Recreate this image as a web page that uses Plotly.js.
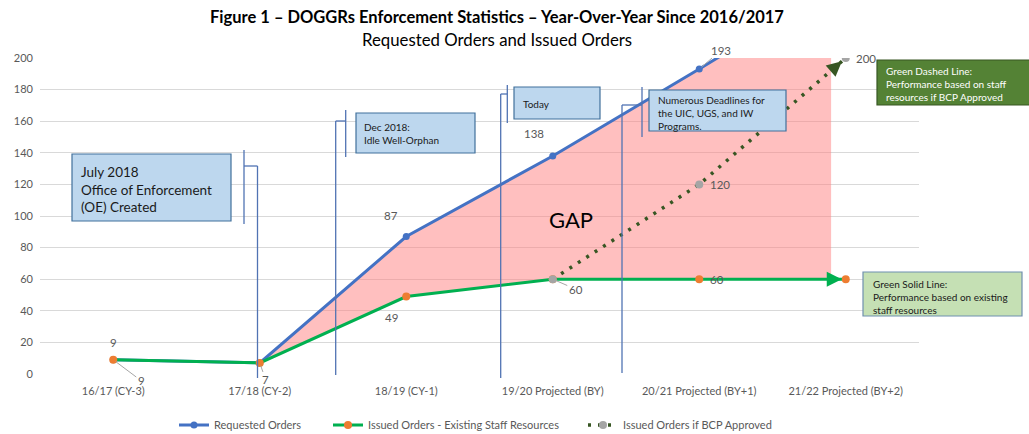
<!DOCTYPE html>
<html><head><meta charset="utf-8">
<script src="https://cdn.plot.ly/plotly-3.0.1.min.js"></script>
<style>html,body{margin:0;padding:0;background:#fff}#chart{width:1029px;height:434px}</style>
</head><body><div id="chart"></div>
<script>
// ---- data ----
const categories = ['16/17 (CY-3)', '17/18 (CY-2)', '18/19 (CY-1)', '19/20 Projected (BY)', '20/21 Projected (BY+1)', '21/22 Projected (BY+2)'];
const requestedOrders = [9, 7, 87, 138, 193, 250];
const issuedExisting = [9, 7, 49, 60, 60, 60];
const issuedBCP = [null, null, null, 60, 120, 200];
const yTickVals = [0, 20, 40, 60, 80, 100, 120, 140, 160, 180, 200];

// ---- layout helpers ----
const FONT = 'Lato, Carlito, Calibri, "Open Sans", sans-serif';
const L = 40, R = 919, T = 58, B = 374;
const px = x => (x - L) / (R - L);
const py = y => (B - y) / (B - T);
const idx = categories.map((c, i) => i);
const yMax = yTickVals[yTickVals.length - 1];
const gapStartIdx = 1, gapEndIdx = 4.9;

function interp(arr, x) {
  const i = Math.min(Math.floor(x), arr.length - 2), t = x - i;
  return arr[i] + (arr[i + 1] - arr[i]) * t;
}
// GAP polygon built from the two series, capped at the axis max
const gapX = [], gapY = [];
for (let i = gapStartIdx; i < requestedOrders.length - 1 && i <= gapEndIdx; i++) {
  gapX.push(i); gapY.push(Math.min(requestedOrders[i], yMax));
  const a = requestedOrders[i], b = requestedOrders[i + 1];
  if (a < yMax && b > yMax) { const t = (yMax - a) / (b - a); if (i + t < gapEndIdx) { gapX.push(i + t); gapY.push(yMax); } }
}
gapX.push(gapEndIdx); gapY.push(Math.min(interp(requestedOrders, gapEndIdx), yMax));
gapX.push(gapEndIdx); gapY.push(interp(issuedExisting, gapEndIdx));
for (let i = Math.floor(gapEndIdx); i >= gapStartIdx; i--) { gapX.push(i); gapY.push(issuedExisting[i]); }

const traces = [
  { x: gapX, y: gapY, mode: 'lines', fill: 'toself', fillcolor: 'rgba(255,128,128,0.5)', line: { width: 0 }, showlegend: false, hoverinfo: 'skip' },
  { x: idx, y: requestedOrders, name: 'Requested Orders', legend: 'legend', mode: 'lines+markers', line: { color: '#4472C4', width: 3 }, marker: { color: '#4472C4', size: 7 } },
  { x: idx, y: issuedExisting, name: 'Issued Orders - Existing Staff Resources', legend: 'legend2', mode: 'lines+markers', line: { color: '#00B050', width: 3 }, marker: { color: '#ED7D31', size: 8 } },
  { x: idx, y: issuedBCP, name: 'Issued Orders if BCP Approved', legend: 'legend3', mode: 'lines+markers', line: { color: '#375623', width: 3.5, dash: '3px,7px' }, marker: { color: '#A5A5A5', size: 8 } }
];

// ---- shapes (callouts) ----
const shapes = [];
function rect(x0, y0, x1, y1, fill, line) {
  shapes.push({ type: 'rect', xref: 'paper', yref: 'paper', x0: px(x0), x1: px(x1), y0: py(y0), y1: py(y1), fillcolor: fill, line: { color: line, width: 1.2 }, layer: 'above' });
}
function seg(x0, y0, x1, y1) {
  shapes.push({ type: 'line', xref: 'paper', yref: 'paper', x0: px(x0), x1: px(x1), y0: py(y0), y1: py(y1), line: { color: '#5073B3', width: 1.3 }, layer: 'above' });
}
seg(244, 150, 244, 224); seg(244, 166, 257.5, 166); seg(257.5, 166, 257.5, 378);
seg(345.7, 110, 345.7, 157); seg(335.7, 121, 345.7, 121); seg(335.7, 121, 335.7, 375);
seg(507.3, 85, 507.3, 123); seg(500.7, 94, 507.3, 94); seg(500.7, 94, 500.7, 378);
seg(642, 87, 642, 137); seg(622, 105, 642, 105); seg(622, 105, 622, 373);
rect(72, 154, 231, 221, '#BDD7EE', '#41719C');
rect(356, 113, 475, 153, '#BDD7EE', '#41719C');
rect(514, 87, 600, 119, '#BDD7EE', '#41719C');
rect(649, 90, 786, 131, '#BDD7EE', '#41719C');
rect(877, 60, 1030, 105, '#548235', '#385723');
rect(863, 272, 1022, 316, '#C5E0B4', '#6F8FAF');

// ---- annotations ----
const ann = [];
function note(x, y, text, size, color, opts) {
  ann.push(Object.assign({ xref: 'paper', yref: 'paper', x: px(x), y: py(y), text: text, showarrow: false, xanchor: 'left', yanchor: 'top', align: 'left', font: { family: FONT, size: size, color: color } }, opts || {}));
}
note(497, 40, 'Requested Orders and Issued Orders', 16.8, '#000', { xanchor: 'center', yanchor: 'middle', align: 'center' });
note(79, 162, 'July 2018<br>Office of Enforcement<br>(OE) Created', 13.5, '#1a1a1a');
note(362, 119, 'Dec 2018:<br>Idle Well-Orphan', 10, '#1a1a1a');
note(521, 96, 'Today', 10, '#1a1a1a');
note(656, 92, 'Numerous Deadlines for<br>the UIC, UGS, and IW<br>Programs.', 10, '#1a1a1a');
note(884, 63, 'Green Dashed Line:<br>Performance based on staff<br>resources if BCP Approved', 10, '#ffffff');
note(871, 276, 'Green Solid Line:<br>Performance based on existing<br>staff resources', 10, '#1a1a1a');
note(571, 219, 'GAP', 22, '#000', { xanchor: 'center', yanchor: 'middle' });

// data labels
const LBL = { family: FONT, size: 11.5, color: '#595959' };
function lbl(i, y, text, xs, ys) {
  ann.push({ x: i, y: y, xref: 'x', yref: 'y', text: text, showarrow: false, xshift: xs, yshift: ys, font: LBL });
}
function lead(i, y, text, ax, ay) {
  ann.push({ x: i, y: y, xref: 'x', yref: 'y', text: text, showarrow: true, arrowhead: 0, arrowwidth: 1, arrowcolor: '#A6A6A6', ax: ax, ay: ay, standoff: 3, font: LBL });
}
lbl(0, issuedExisting[0], String(issuedExisting[0]), 0, 17);
lead(0, requestedOrders[0], String(requestedOrders[0]), 28, 21);
lead(1, requestedOrders[1], String(requestedOrders[1]), 6, 17);
lbl(2, requestedOrders[2], String(requestedOrders[2]), -15, 21);
lbl(3, requestedOrders[3], String(requestedOrders[3]), -19, 22);
lead(4, requestedOrders[4], String(requestedOrders[4]), 22, -19);
lbl(2, issuedExisting[2], String(issuedExisting[2]), -15, -21);
lead(3, issuedBCP[3], String(issuedBCP[3]), 23, 10);
lbl(4, issuedExisting[4], String(issuedExisting[4]), 18, 0);
lbl(4, issuedBCP[4], String(issuedBCP[4]), 21, 0);
lbl(5, issuedBCP[5], String(issuedBCP[5]), 20, 0);

// arrow heads at line ends
const n = categories.length - 1;
ann.push({ x: n, y: issuedExisting[n], xref: 'x', yref: 'y', axref: 'x', ayref: 'y', ax: n - 0.12, ay: issuedExisting[n] - 0.12 * (issuedExisting[n] - issuedExisting[n - 1]), text: '', showarrow: true, arrowhead: 2, arrowsize: 1, arrowwidth: 3, arrowcolor: '#00B050', standoff: 4 });
ann.push({ x: n, y: issuedBCP[n], xref: 'x', yref: 'y', axref: 'x', ayref: 'y', ax: n - 0.1, ay: issuedBCP[n] - 0.1 * (issuedBCP[n] - issuedBCP[n - 1]), text: '', showarrow: true, arrowhead: 2, arrowsize: 1, arrowwidth: 3, arrowcolor: '#375623', standoff: 5 });

const legendBase = { orientation: 'h', xanchor: 'left', y: py(425), yanchor: 'middle', font: { family: FONT, size: 11, color: '#595959' }, bgcolor: 'rgba(0,0,0,0)', borderwidth: 0 };
const LEG_OFF = 6; // legend box left padding before the symbol
const layout = {
  width: 1029, height: 434,
  margin: { l: L, r: 1029 - R, t: T, b: 434 - B, autoexpand: false },
  paper_bgcolor: '#fff', plot_bgcolor: '#fff',
  font: { family: FONT, size: 11, color: '#595959' },
  title: { text: '<b>Figure 1 – DOGGRs Enforcement Statistics – Year-Over-Year Since 2016/2017</b>', font: { family: FONT, size: 16.5, color: '#000' }, x: 0.483, xanchor: 'center', xref: 'container', y: 1 - 17 / 434, yanchor: 'middle', yref: 'container' },
  xaxis: { range: [-0.5, categories.length - 0.5], tickvals: idx, ticktext: categories, showgrid: false, zeroline: false, showline: false, ticks: '', tickfont: { family: FONT, size: 11, color: '#595959' }, ticklabelstandoff: 9, fixedrange: true, automargin: false },
  yaxis: { range: [0, yMax], tickvals: yTickVals, gridcolor: '#D9D9D9', gridwidth: 1, zeroline: false, showline: false, ticks: '', tickfont: { family: FONT, size: 11, color: '#595959' }, ticklabelstandoff: 6, fixedrange: true, automargin: false },
  showlegend: true,
  legend: Object.assign({}, legendBase, { x: px(180 - LEG_OFF) }),
  legend2: Object.assign({}, legendBase, { x: px(334 - LEG_OFF) }),
  legend3: Object.assign({}, legendBase, { x: px(589 - LEG_OFF) }),
  shapes: shapes,
  annotations: ann
};
Plotly.newPlot('chart', traces, layout, { staticPlot: true, displayModeBar: false });
</script></body></html>
